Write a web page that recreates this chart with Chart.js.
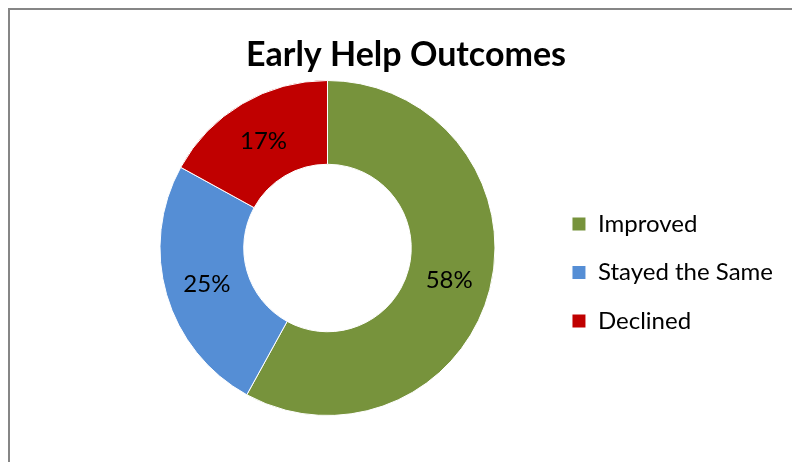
<!DOCTYPE html>
<html>
<head>
<meta charset="utf-8">
<script src="https://cdn.jsdelivr.net/npm/chart.js@4/dist/chart.umd.min.js"></script>
<style>
  html, body { margin: 0; padding: 0; background: #fff; overflow: hidden; }
  .frame {
    position: absolute; left: 8px; top: 8px; width: 820px; height: 480px;
    border-left: 2px solid #868686; border-top: 2px solid #868686;
  }
  #wrap { position: absolute; left: 0; top: 0; width: 792px; height: 462px; }
</style>
</head>
<body>
<div class="frame"></div>
<div id="wrap"><canvas id="outcomes"></canvas></div>
<script>
const chartTitle = 'Early Help Outcomes';
const categories = ['Improved', 'Stayed the Same', 'Declined'];
const shares = [58, 25, 17];
const sliceColors = ['#77933C', '#558ED5', '#C00000'];

// chart heading, centred over the plot + legend block
const headingPlugin = {
  id: 'heading',
  afterDraw(chart) {
    const ctx = chart.ctx;
    ctx.save();
    ctx.font = 'bold 34px Lato';
    ctx.fillStyle = '#000';
    ctx.textAlign = 'center';
    ctx.textBaseline = 'alphabetic';
    ctx.fillText(chartTitle, 406, 66);
    ctx.restore();
  }
};

// percentage printed in the middle of each ring segment
const sliceLabels = {
  id: 'sliceLabels',
  afterDatasetsDraw(chart) {
    const ctx = chart.ctx;
    const meta = chart.getDatasetMeta(0);
    ctx.save();
    ctx.font = '24px Lato';
    ctx.fillStyle = '#000';
    ctx.textAlign = 'center';
    ctx.textBaseline = 'middle';
    meta.data.forEach((arc, i) => {
      const pos = arc.tooltipPosition();
      ctx.fillText(shares[i] + '%', pos.x, pos.y + 1);
    });
    ctx.restore();
  }
};

new Chart(document.getElementById('outcomes'), {
  type: 'doughnut',
  data: {
    labels: categories,
    datasets: [{
      data: shares,
      backgroundColor: sliceColors,
      borderColor: '#fff',
      borderWidth: 1
    }]
  },
  options: {
    responsive: true,
    maintainAspectRatio: false,
    animation: false,
    cutout: '50%',
    layout: { padding: { top: 80, bottom: 46, left: 107.5, right: 9 } },
    plugins: {
      title: { display: false },
      tooltip: { enabled: false },
      legend: {
        position: 'right',
        align: 'center',
        // empty title only pushes the entries a little below the ring centre
        title: { display: true, text: '', font: { size: 10, lineHeight: '12px' }, padding: { top: 0, bottom: 37 } },
        labels: {
          boxWidth: 14,
          boxHeight: 14,
          padding: 24.5,
          color: '#000',
          font: { family: 'Lato', size: 24 }
        }
      }
    }
  },
  plugins: [sliceLabels, headingPlugin]
});
</script>
</body>
</html>
